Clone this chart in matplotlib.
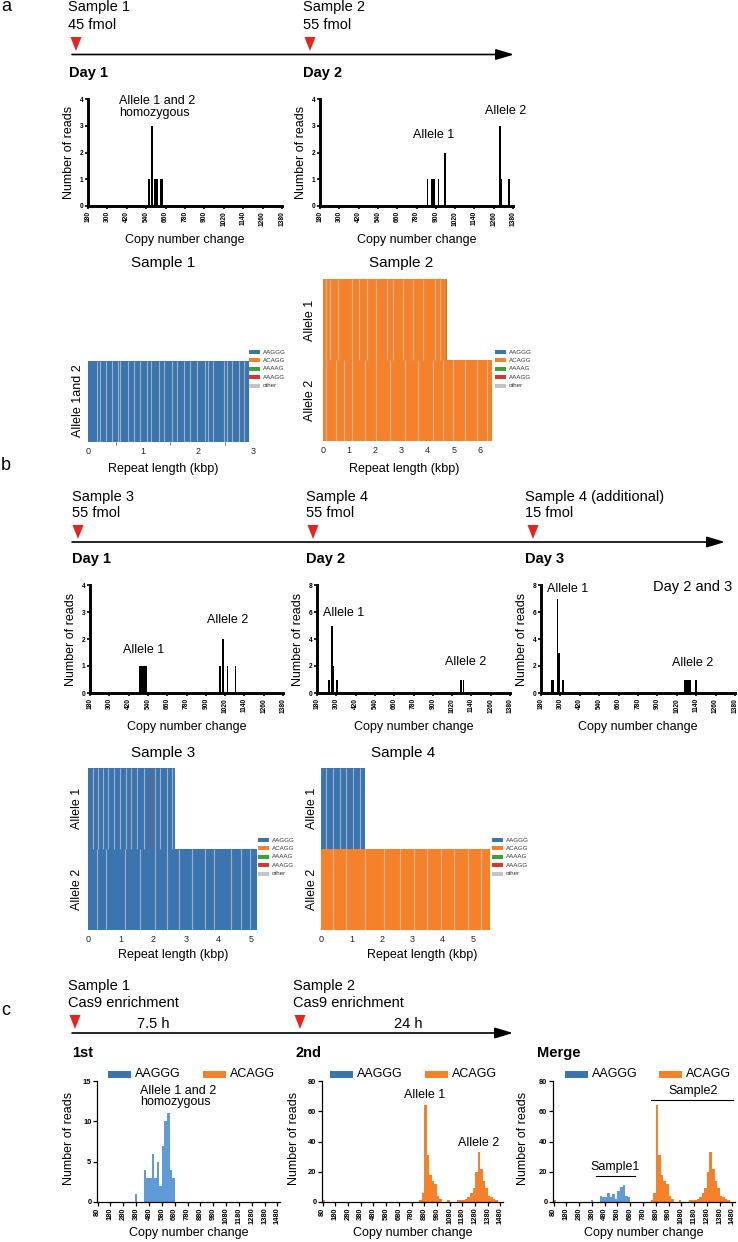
import matplotlib.pyplot as plt
from matplotlib.patches import Polygon, Rectangle

plt.rcParams['font.family'] = ['Liberation Sans', 'DejaVu Sans']

W, H = 738, 1242

# ---- panels a / b : reads per copy number change ----
a1_cn = [557, 574, 592, 600, 608, 633, 642]
a1_reads = [1, 3, 1, 1, 1, 1, 1]
a2_cn = [849, 877, 890, 917, 958, 1298, 1308, 1356]
a2_reads = [1, 1, 1, 1, 2, 3, 1, 1]
b1_cn = [185, 487, 497, 507, 517, 527, 987, 1008, 1035, 1085]
b1_reads = [1, 1, 1, 1, 1, 1, 1, 2, 1, 1]
b2_cn = [254, 273, 283, 306, 1075, 1090]
b2_reads = [1, 5, 2, 1, 1, 1]
b3_cn = [245, 254, 283, 293, 317, 1070, 1080, 1090, 1100, 1140]
b3_reads = [1, 1, 7, 3, 1, 1, 1, 1, 1, 1]
cn_ticks_ab = list(range(180, 1381, 120))

# ---- panel c : 20-copy bins ----
c_s1_bins = [380, 450, 470, 490, 510, 530, 550, 570, 590, 610, 630, 650, 670]
c_s1_reads = [1, 4, 3, 3, 6, 3, 5, 2, 7, 10, 11, 4, 3]
c_s2_bins = [90, 850, 870, 890, 910, 930, 950, 970, 990, 1010, 1070,
             1150, 1170, 1190, 1210, 1230, 1250, 1270, 1290, 1310, 1330,
             1350, 1370, 1390, 1410, 1430, 1450]
c_s2_reads = [1, 1, 6, 64, 31, 18, 14, 12, 4, 2, 1,
              1, 1, 1, 2, 3, 6, 9, 20, 33, 22,
              14, 9, 4, 3, 2, 1]
cn_ticks_c = list(range(80, 1481, 100))

# ---- repeat maps (kbp) ----
motifs = ['AAGGG', 'ACAGG', 'AAAAG', 'AAAGG', 'other']
motif_colors = ['#3a75b0', '#f5822a', '#3ca03c', '#d03a35', '#c4c4c4']
mcol = dict(zip(motifs, motif_colors))

s1_len = [2.92]
s1_motif = ['AAGGG']
s1_other = [[0.16, 0.21, 0.32, 0.44, 0.54, 0.59, 0.72, 0.84, 0.95, 1.07, 1.15,
             1.29, 1.39, 1.53, 1.61, 1.74, 1.85, 1.98, 2.13, 2.19, 2.28, 2.47,
             2.53, 2.62, 2.74, 2.83]]
s1_rare = [[]]

s2_len = [4.73, 6.45]
s2_motif = ['ACAGG', 'ACAGG']
s2_other = [[0.10, 0.26, 0.57, 1.09, 1.38, 1.69, 2.04, 2.43, 2.68, 3.04, 3.45,
             3.83, 4.28, 4.47],
            [0.13, 0.51, 0.79, 1.09, 1.60, 2.04, 2.55, 3.13, 3.64, 4.21, 4.60,
             4.98, 5.43, 5.87, 6.26]]
s2_rare = [[(4.72, 'AAAAG')], []]

s3_len = [2.66, 5.16]
s3_motif = ['AAGGG', 'AAGGG']
s3_other = [[0.15, 0.31, 0.46, 0.62, 0.79, 0.97, 1.16, 1.33, 1.49, 1.71, 2.05,
             2.21, 2.41, 2.56],
            [0.26, 0.56, 1.13, 1.59, 2.05, 2.41, 2.77, 3.18, 3.59, 3.85, 4.36,
             4.67, 4.97]]
s3_rare = [[(1.90, 'AAAGG')], []]

s4_len = [1.45, 5.58]
s4_motif = ['AAGGG', 'ACAGG']
s4_other = [[0.17, 0.39, 0.61, 0.83, 1.06, 1.28],
            [0.39, 0.83, 1.44, 2.06, 2.61, 3.06, 3.50, 3.94, 4.39, 4.83, 5.28]]
s4_rare = [[(0.01, 'AAAAG')], []]

RED = '#e8231d'
BAR_BLUE = '#5f9bd8'

fig = plt.figure(figsize=(W / 100, H / 100), dpi=100)
ov = fig.add_axes([0, 0, 1, 1], zorder=5)
ov.set_xlim(0, W)
ov.set_ylim(H, 0)
ov.axis('off')


def px_axes(box):
    x0, y0, x1, y1 = box
    return fig.add_axes([x0 / W, 1 - y1 / H, (x1 - x0) / W, (y1 - y0) / H])


def set_labels(ax, box, xlab, xc, yc_x, ylab, ylab_x, fs=9):
    x0, y0, x1, y1 = box
    if xlab:
        ax.set_xlabel(xlab, fontsize=fs, va='center')
        ax.xaxis.set_label_coords((xc[0] - x0) / (x1 - x0), (y1 - xc[1]) / (y1 - y0))
    if ylab:
        ax.set_ylabel(ylab, fontsize=fs, va='center')
        ax.yaxis.set_label_coords((ylab_x - x0) / (x1 - x0), (y1 - yc_x) / (y1 - y0))


def read_hist(box, cn, reads, ymax, ystep, xlab_y):
    ax = px_axes(box)
    ax.bar(cn, reads, width=10, color='black', linewidth=0)
    ax.set_xlim(180, 1380)
    ax.set_ylim(0, ymax)
    ax.set_xticks(cn_ticks_ab)
    ax.set_xticklabels([str(t) for t in cn_ticks_ab], rotation=90, fontweight='bold')
    yt = list(range(0, ymax + 1, ystep))
    ax.set_yticks(yt)
    ax.set_yticklabels([str(t) for t in yt], fontweight='bold')
    ax.tick_params(direction='out', length=2.5, width=1.2, labelsize=4.8, pad=1)
    for s in ['top', 'right']:
        ax.spines[s].set_visible(False)
    for s in ['left', 'bottom']:
        ax.spines[s].set_linewidth(2.1)
    x0, y0, x1, y1 = box
    set_labels(ax, box, 'Copy number change', ((x0 + x1) / 2, xlab_y),
               (y0 + y1) / 2, 'Number of reads', x0 - 19)
    return ax


def motif_hist(box, series, ymax, yt, ylab_x):
    ax = px_axes(box)
    for bins, reads, col in series:
        ax.bar(bins, reads, width=20, color=col, linewidth=0)
    ax.set_xlim(75, 1500)
    ax.set_ylim(0, ymax)
    ax.set_xticks(cn_ticks_c)
    ax.set_xticklabels([str(t) for t in cn_ticks_c], rotation=90, fontweight='bold')
    ax.set_yticks(yt)
    ax.set_yticklabels([str(t) for t in yt], fontweight='bold')
    ax.tick_params(direction='out', length=3, width=0.9, labelsize=5.4, pad=1)
    for s in ['top', 'right']:
        ax.spines[s].set_visible(False)
    for s in ['left', 'bottom']:
        ax.spines[s].set_linewidth(0.9)
    x0, y0, x1, y1 = box
    set_labels(ax, box, 'Copy number change', ((x0 + x1) / 2, 1233),
               1138, 'Number of reads', ylab_x)
    return ax


def repeat_map(box, lengths, units, others, rare, xmax, xticks):
    ax = px_axes(box)
    n = len(lengths)
    for row in range(n):
        ax.barh(row, lengths[row], height=1, left=0, color=mcol[units[row]], linewidth=0)
        ax.vlines(others[row], row - 0.5, row + 0.5, color=mcol['other'], lw=0.8, alpha=0.75)
        for pos, m in rare[row]:
            ax.vlines(pos, row - 0.5, row + 0.5, color=mcol[m], lw=0.8, alpha=0.6)
    ax.set_ylim(n - 0.5, -0.5)
    ax.set_xlim(0, xmax)
    ax.set_yticks([])
    ax.set_xticks(xticks)
    ax.tick_params(axis='x', length=0, labelsize=6.5, pad=3.5, labelcolor='#222222')
    for s in ax.spines.values():
        s.set_visible(False)
    return ax


def key(x, y, fs=4.5):
    for i, (m, c) in enumerate(zip(motifs, motif_colors)):
        yy = y + i * 8.4
        ov.add_patch(Rectangle((x, yy - 2), 11, 4, color=c, lw=0))
        ov.text(x + 14, yy, m, fontsize=fs, va='center', ha='left', color='#333333')


def timeline(x_start, x_end, y, marks, tri_top, tri_bot):
    ov.annotate('', xy=(x_end, y), xytext=(x_start, y),
                arrowprops=dict(arrowstyle='-|>,head_length=1.1,head_width=0.33',
                                color='black', lw=1.2, shrinkA=0, shrinkB=0,
                                mutation_scale=10))
    for mx in marks:
        ov.add_patch(Polygon([(mx - 5.5, tri_top), (mx + 5.5, tri_top), (mx, tri_bot)],
                             closed=True, color=RED, lw=0))


def t(x, y, s, fs=10.5, **kw):
    kw.setdefault('va', 'baseline')
    ov.text(x, y, s, fontsize=fs, **kw)


# ================= panel a =================
t(1, 11, 'a', fs=13)
t(68, 11, 'Sample 1')
t(68, 29, '45 fmol')
t(303, 11, 'Sample 2')
t(303, 29, '55 fmol')
timeline(72, 514, 54.5, [76, 310], 37, 51)
t(69, 77, 'Day 1', fontweight='bold')
t(303, 77, 'Day 2', fontweight='bold')

read_hist((88, 99, 282, 206), a1_cn, a1_reads, 4, 1, 240)
read_hist((320, 99, 513, 206), a2_cn, a2_reads, 4, 1, 240)
t(119, 101, 'Allele 1 and 2', fs=9, va='center')
t(119, 113, 'homozygous', fs=9, va='center')
t(434, 135, 'Allele 1', fs=9, va='center', ha='center')
t(506, 111, 'Allele 2', fs=9, va='center', ha='center')

ax = repeat_map((88, 361, 253, 442), s1_len, s1_motif, s1_other, s1_rare, 3.0, [0, 1, 2, 3])
ax.set_xticks([0.5, 1.5, 2.5], minor=True)
ax.tick_params(axis='x', which='minor', length=2, width=0.6, color='#555555')
repeat_map((323, 279, 493, 441), s2_len, s2_motif, s2_other, s2_rare, 6.5, list(range(7)))
t(163, 263, 'Sample 1', fs=11, ha='center', va='center')
t(401, 263, 'Sample 2', fs=11, ha='center', va='center')
t(78, 401, 'Allele 1and 2', fs=9, ha='center', va='center', rotation=90)
t(310, 320, 'Allele 1', fs=9, ha='center', va='center', rotation=90)
t(310, 400, 'Allele 2', fs=9, ha='center', va='center', rotation=90)
t(163, 469, 'Repeat length (kbp)', fs=9, ha='center', va='center')
t(404, 469, 'Repeat length (kbp)', fs=9, ha='center', va='center')
key(249, 352)
key(495, 352)

# ================= panel b =================
t(1, 470, 'b', fs=13)
t(72, 501, 'Sample 3')
t(72, 517, '55 fmol')
t(306, 501, 'Sample 4')
t(306, 517, '55 fmol')
t(525, 501, 'Sample 4 (additional)')
t(525, 517, '15 fmol')
timeline(72, 725, 542, [78, 313, 533], 525, 539)
t(72, 563, 'Day 1', fontweight='bold')
t(306, 563, 'Day 2', fontweight='bold')
t(525, 563, 'Day 3', fontweight='bold')

read_hist((90, 585, 283, 693), b1_cn, b1_reads, 4, 1, 727)
read_hist((317, 585, 510, 693), b2_cn, b2_reads, 8, 2, 727)
read_hist((541, 585, 735, 693), b3_cn, b3_reads, 8, 2, 727)
t(144, 650, 'Allele 1', fs=9, va='center', ha='center')
t(228, 620, 'Allele 2', fs=9, va='center', ha='center')
t(344, 613, 'Allele 1', fs=9, va='center', ha='center')
t(466, 662, 'Allele 2', fs=9, va='center', ha='center')
t(568, 589, 'Allele 1', fs=9, va='center', ha='center')
t(693, 587, 'Day 2 and 3', fs=10.5, va='center', ha='center')
t(693, 663, 'Allele 2', fs=9, va='center', ha='center')

repeat_map((88, 768, 258, 930), s3_len, s3_motif, s3_other, s3_rare, 5.2, list(range(6)))
repeat_map((321, 768, 491, 930), s4_len, s4_motif, s4_other, s4_rare, 5.6, list(range(6)))
t(163, 753, 'Sample 3', fs=11, ha='center', va='center')
t(403, 753, 'Sample 4', fs=11, ha='center', va='center')
t(77, 808, 'Allele 1', fs=9, ha='center', va='center', rotation=90)
t(77, 889, 'Allele 2', fs=9, ha='center', va='center', rotation=90)
t(312, 808, 'Allele 1', fs=9, ha='center', va='center', rotation=90)
t(312, 889, 'Allele 2', fs=9, ha='center', va='center', rotation=90)
t(173, 955, 'Repeat length (kbp)', fs=9, ha='center', va='center')
t(422, 955, 'Repeat length (kbp)', fs=9, ha='center', va='center')
key(258, 840)
key(492, 840)

# ================= panel c =================
t(1, 1015, 'c', fs=13)
t(68, 990, 'Sample 1')
t(68, 1007, 'Cas9 enrichment')
t(293, 990, 'Sample 2')
t(293, 1007, 'Cas9 enrichment')
t(153, 1028, '7.5 h', ha='center')
t(408, 1028, '24 h', ha='center')
timeline(72, 513, 1033, [75, 300], 1015, 1029)
t(72, 1057, '1st', fontweight='bold')
t(296, 1057, '2nd', fontweight='bold')
t(537, 1057, 'Merge', fontweight='bold')

blue_series = (c_s1_bins, c_s1_reads, BAR_BLUE)
orange_series = (c_s2_bins, c_s2_reads, mcol['ACAGG'])
motif_hist((97, 1081, 280, 1202), [blue_series], 15, [0, 5, 10, 15], 69)
motif_hist((322, 1081, 503, 1202), [orange_series], 80, [0, 20, 40, 60, 80], 294)
motif_hist((553, 1081, 735, 1202), [blue_series, orange_series], 80, [0, 20, 40, 60, 80], 523)

for lx, ox in [(108, 203), (330, 425), (565, 659)]:
    for px, m in [(lx, 'AAGGG'), (ox, 'ACAGG')]:
        ov.add_patch(Rectangle((px, 1070.5), 23, 7, color=mcol[m], lw=0))
        t(px + 27, 1074, m, fs=9, va='center')

t(140, 1091, 'Allele 1 and 2', fs=9, va='center')
t(140, 1102, 'homozygous', fs=9, va='center')
t(425, 1095, 'Allele 1', fs=9, va='center', ha='center')
t(479, 1143, 'Allele 2', fs=9, va='center', ha='center')
t(615, 1167, 'Sample1', fs=9, va='center', ha='center')
ov.plot([596, 635], [1176, 1176], color='black', lw=0.8)
t(693, 1091, 'Sample2', fs=9, va='center', ha='center')
ov.plot([651, 733], [1100, 1100], color='black', lw=0.8)

fig.savefig('out.png', dpi=100)
